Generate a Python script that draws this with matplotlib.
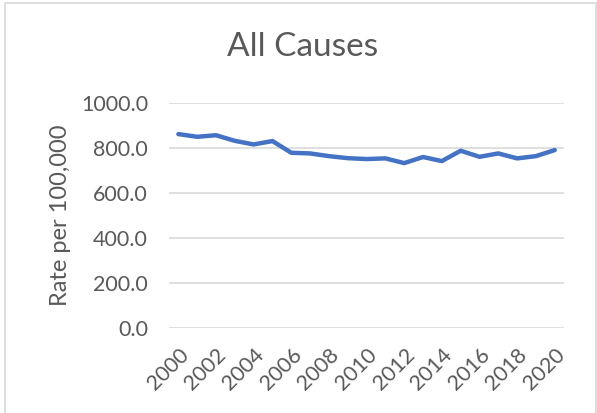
import matplotlib
matplotlib.use("Agg")
import matplotlib.pyplot as plt
from matplotlib.patches import Rectangle

plt.rcParams['font.family'] = ['Lato', 'DejaVu Sans']

# data
years = list(range(2000, 2021))
rate = [861, 849, 856, 831, 815, 830, 778, 775, 763, 754, 750,
        753, 732, 759, 741, 787, 760, 775, 753, 763, 790]
tick_years = [str(y) for y in range(2000, 2021, 2)]
y_ticks = [0, 200, 400, 600, 800, 1000]

text_col = "#595959"
grid_col = "#d9d9d9"
line_col = "#4472c4"

fig = plt.figure(figsize=(5.97, 4.13), dpi=100)
ax = fig.add_axes([0.283, 0.2065, 0.662, 0.5445])

idx = list(range(len(years)))
ax.plot(idx, rate, color=line_col, linewidth=3.2, solid_capstyle="round", solid_joinstyle="round")

ax.set_xlim(-0.5, len(years) - 0.5)
ax.set_ylim(0, 1000)
ax.set_yticks(y_ticks)
ax.set_yticklabels(["{:.1f}".format(v) for v in y_ticks], fontsize=15.5, color=text_col)
ax.set_xticks(idx[::2])
ax.set_xticklabels(tick_years, rotation=45, ha="right", rotation_mode="anchor",
                   fontsize=15.5, color=text_col)
ax.tick_params(axis="x", length=0, pad=12)
ax.tick_params(axis="y", length=0, pad=15)
ax.grid(axis="y", color=grid_col, linewidth=1.2)
ax.set_axisbelow(True)
for s in ax.spines.values():
    s.set_visible(False)

ax.set_ylabel("Rate per 100,000", fontsize=17, color=text_col, labelpad=7)
fig.text(303 / 597, 1 - 47 / 413, "All Causes", fontsize=24, color=text_col,
         ha="center", va="center")

# chart border like the spreadsheet frame
fig.patches.append(Rectangle((5 / 597, -0.01), 591 / 597, 1 - 3 / 413 + 0.01,
                             transform=fig.transFigure, fill=False,
                             edgecolor=grid_col, linewidth=1.2))

fig.savefig("out.png", dpi=100)
